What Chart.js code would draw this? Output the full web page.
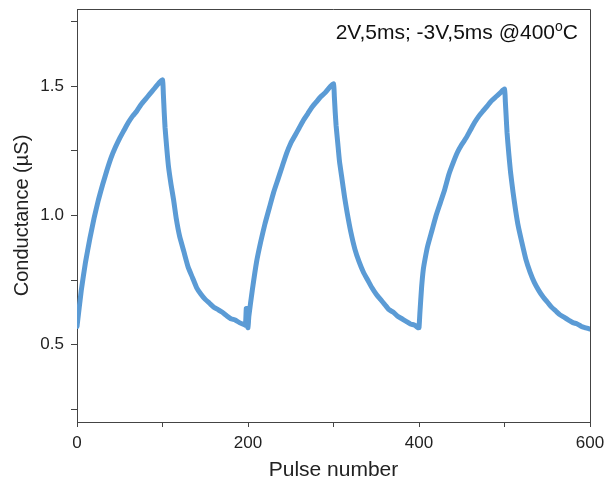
<!DOCTYPE html>
<html>
<head>
<meta charset="utf-8">
<script src="https://cdn.jsdelivr.net/npm/chart.js@4.4.1/dist/chart.umd.min.js"></script>
<style>
  html, body { margin: 0; padding: 0; background: #fff; }
  #wrap { width: 608px; height: 492px; }
</style>
</head>
<body>
<div id="wrap"><canvas id="chart"></canvas></div>
<script>
// Pulse number (x) and conductance in µS (y)
const pulses = [
  0, 5, 10, 15, 20, 25, 30, 35, 40, 45, 50, 55, 60, 65, 70, 75, 80, 85, 90, 95, 100,
  101, 102, 103, 105, 107, 110, 113, 116, 120, 125, 130, 135, 140, 145, 150, 155, 160, 165, 170, 175, 180, 185, 190, 195, 197, 198, 199,
  200, 201, 205, 210, 215, 220, 225, 230, 235, 240, 245, 250, 255, 260, 265, 270, 275, 280, 285, 290, 295, 300,
  301, 302, 303, 305, 307, 310, 313, 316, 320, 325, 330, 335, 340, 345, 350, 355, 360, 365, 370, 375, 380, 385, 390, 395, 399,
  400, 401, 403, 405, 407, 410, 415, 420, 425, 430, 435, 440, 445, 450, 455, 460, 465, 470, 475, 480, 485, 490, 495, 500,
  501, 502, 503, 505, 507, 510, 513, 516, 520, 525, 530, 535, 540, 545, 550, 555, 560, 565, 570, 575, 580, 585, 590, 595, 600
];
const conductance = [
  0.57, 0.71, 0.82, 0.91, 0.99, 1.06, 1.12, 1.175, 1.225, 1.265, 1.30, 1.33, 1.36, 1.385, 1.405, 1.43, 1.45, 1.47, 1.49, 1.51, 1.525,
  1.47, 1.40, 1.34, 1.26, 1.19, 1.12, 1.06, 0.99, 0.92, 0.86, 0.80, 0.76, 0.72, 0.695, 0.675, 0.66, 0.645, 0.635, 0.625, 0.612, 0.60, 0.595, 0.585, 0.578, 0.575, 0.64, 0.60,
  0.565, 0.61, 0.71, 0.82, 0.90, 0.97, 1.03, 1.09, 1.14, 1.19, 1.24, 1.28, 1.31, 1.34, 1.37, 1.395, 1.42, 1.44, 1.46, 1.475, 1.495, 1.51,
  1.46, 1.40, 1.35, 1.28, 1.21, 1.14, 1.07, 1.01, 0.94, 0.87, 0.82, 0.78, 0.75, 0.72, 0.695, 0.675, 0.655, 0.635, 0.625, 0.61, 0.60, 0.59, 0.58, 0.575, 0.565,
  0.565, 0.62, 0.72, 0.79, 0.83, 0.88, 0.94, 1.00, 1.05, 1.10, 1.16, 1.205, 1.245, 1.275, 1.30, 1.33, 1.36, 1.385, 1.405, 1.425, 1.445, 1.46, 1.475, 1.49,
  1.44, 1.38, 1.32, 1.24, 1.17, 1.09, 1.02, 0.96, 0.90, 0.83, 0.78, 0.74, 0.71, 0.685, 0.665, 0.645, 0.63, 0.615, 0.605, 0.595, 0.585, 0.58, 0.57, 0.565, 0.56
];
const xTicks = [0, 100, 200, 300, 400, 500, 600];
const xLabels = [0, 200, 400, 600];
const yTicks = [0.25, 0.5, 0.75, 1.0, 1.25, 1.5, 1.75];
const yLabels = [0.5, 1.0, 1.5];
const note = '2V,5ms; -3V,5ms @400';

const FONT = 'Arial, "Liberation Sans", sans-serif';
const INK = '#222';

// frame on top and right + annotation text
const framePlugin = {
    id: 'frame',
    afterDraw(chart) {
        const { ctx, chartArea: a } = chart;
        ctx.save();
        ctx.strokeStyle = '#444';
        ctx.lineWidth = 1;
        ctx.beginPath();
        ctx.moveTo(a.left, a.top + 0.5);
        ctx.lineTo(a.right + 0.5, a.top + 0.5);
        ctx.lineTo(a.right + 0.5, a.bottom);
        ctx.stroke();

        ctx.fillStyle = '#111';
        ctx.textBaseline = 'alphabetic';
        ctx.font = '21px ' + FONT;
        const wMain = ctx.measureText(note).width;
        ctx.font = '14px ' + FONT;
        const wSup = ctx.measureText('o').width;
        ctx.font = '21px ' + FONT;
        const wC = ctx.measureText('C').width;
        let x = 578 - (wMain + wSup + wC);
        const y = 39;
        ctx.fillText(note, x, y);
        x += wMain;
        ctx.font = '14px ' + FONT;
        ctx.fillText('o', x, y - 8);
        x += wSup;
        ctx.font = '21px ' + FONT;
        ctx.fillText('C', x, y);
        ctx.restore();
    }
};

const ctx = document.getElementById('chart').getContext('2d');
new Chart(ctx, {
    type: 'line',
    data: {
        datasets: [{
            data: pulses.map((p, i) => ({ x: p, y: conductance[i] })),
            borderColor: 'rgb(91, 155, 213)',
            borderWidth: 5,
            pointRadius: 0,
            tension: 0.15,
            borderJoinStyle: 'round',
            borderCapStyle: 'round'
        }]
    },
    options: {
        responsive: true,
        maintainAspectRatio: false,
        animation: false,
        layout: { padding: { top: 9, right: 18, left: 0, bottom: 0 } },
        plugins: {
            legend: { display: false },
            tooltip: { enabled: false }
        },
        scales: {
            x: {
                type: 'linear',
                min: 0,
                max: 600,
                afterBuildTicks: axis => { axis.ticks = xTicks.map(v => ({ value: v })); },
                afterFit: axis => { axis.height = 70; axis.paddingLeft = 0; axis.paddingRight = 0; },
                border: { display: true, color: '#444', width: 1 },
                grid: { drawOnChartArea: false, drawTicks: true, tickLength: 5, tickColor: '#444' },
                ticks: {
                    color: INK,
                    font: { family: FONT, size: 17 },
                    padding: 6,
                    maxRotation: 0,
                    autoSkip: false,
                    callback: v => xLabels.includes(v) ? String(v) : ''
                },
                title: {
                    display: true,
                    text: 'Pulse number',
                    color: INK,
                    font: { family: FONT, size: 21 },
                    padding: { top: 0, bottom: 9 }
                }
            },
            y: {
                min: 0.2,
                max: 1.8,
                afterBuildTicks: axis => { axis.ticks = yTicks.map(v => ({ value: v })); },
                afterFit: axis => { axis.width = 77; axis.paddingTop = 0; axis.paddingBottom = 0; },
                border: { display: true, color: '#444', width: 1 },
                grid: { drawOnChartArea: false, drawTicks: true, tickLength: 6, tickColor: '#444' },
                ticks: {
                    color: INK,
                    font: { family: FONT, size: 17 },
                    padding: 7,
                    autoSkip: false,
                    callback: v => yLabels.some(l => Math.abs(l - v) < 1e-6) ? v.toFixed(1) : ''
                },
                title: {
                    display: true,
                    text: 'Conductance (\u00b5S)',
                    color: INK,
                    font: { family: FONT, size: 20 },
                    padding: { top: 10, bottom: 0 }
                }
            }
        }
    },
    plugins: [framePlugin]
});
</script>
</body>
</html>
